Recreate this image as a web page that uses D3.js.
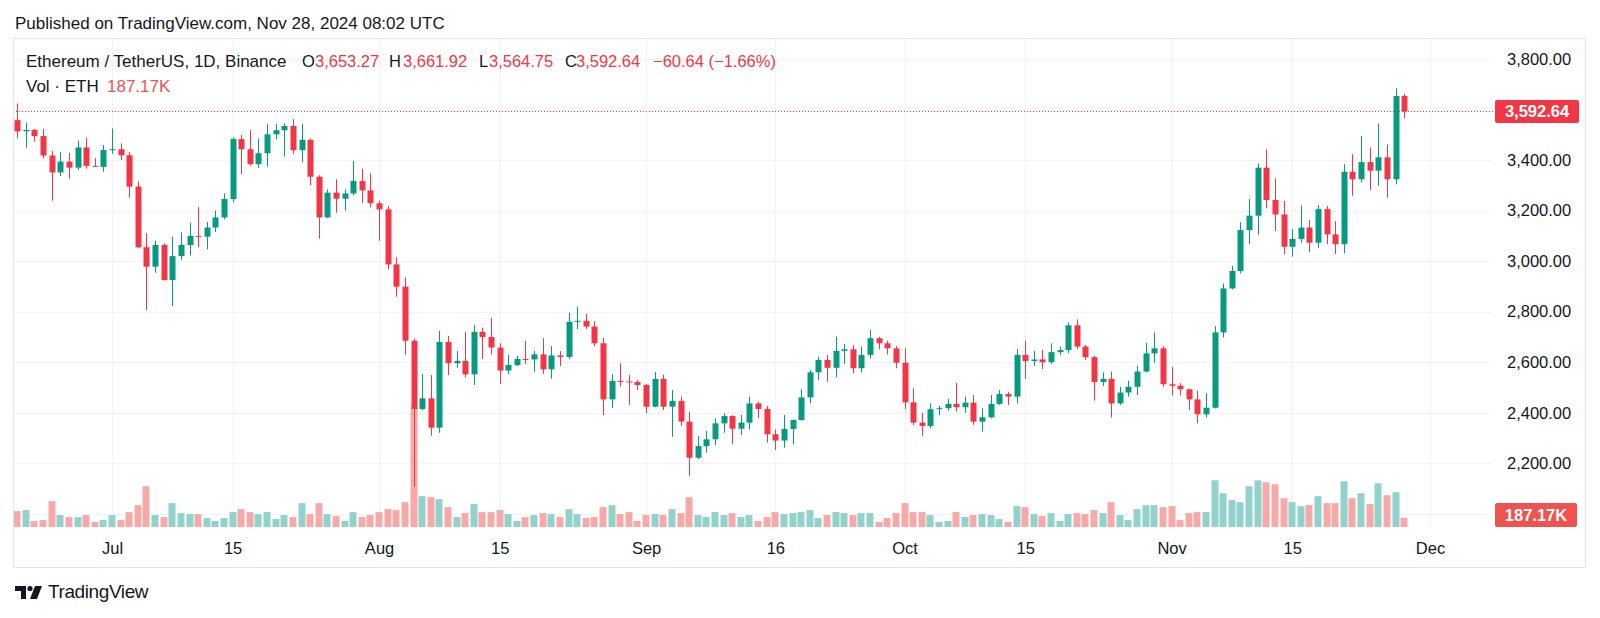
<!DOCTYPE html>
<html><head><meta charset="utf-8">
<script src="https://cdn.jsdelivr.net/npm/d3@7"></script>
<style>
html,body{margin:0;padding:0;background:#fff;}
svg{display:block;font-family:"Liberation Sans",Arial,sans-serif;}
</style></head><body>
<svg id="c" width="1600" height="618"></svg>
<script>
// ---------------- data (ETH/USDT, 1D, Binance) ----------------
const startDate = "2024-06-20";
const opens = [3558,3514,3519,3495,3418,3351,3394,3370,3450,3377,3373,3440,3443,3419,3295,3055,2978,3064,2925,3020,3064,3100,3097,3133,3173,3246,3483,3443,3384,3427,3502,3518,3535,3439,3480,3334,3173,3271,3247,3268,3317,3280,3229,3205,2987,2899,2685,2415,2457,2341,2680,2596,2605,2552,2720,2700,2658,2567,2589,2613,2611,2631,2572,2627,2621,2760,2764,2741,2675,2453,2526,2524,2522,2510,2424,2534,2424,2447,2365,2222,2268,2295,2358,2387,2337,2361,2437,2415,2315,2290,2336,2371,2461,2560,2609,2578,2645,2651,2576,2629,2695,2675,2655,2598,2441,2361,2348,2414,2418,2435,2422,2440,2365,2382,2435,2474,2464,2629,2605,2611,2600,2640,2648,2746,2662,2620,2522,2534,2437,2480,2503,2563,2635,2655,2513,2507,2493,2453,2394,2420,2718,2892,2961,3123,3180,3370,3242,3185,3057,3088,3133,3073,3206,3106,3067,3354,3324,3392,3358,3411,3324,3653.27];
const highs = [3624,3549,3523,3523,3436,3432,3429,3477,3487,3407,3460,3525,3466,3432,3315,3110,3081,3070,3097,3114,3152,3215,3155,3200,3268,3490,3499,3519,3486,3543,3543,3545,3562,3543,3486,3340,3284,3324,3284,3396,3366,3348,3239,3218,3015,2936,2694,2553,2549,2724,2704,2644,2721,2747,2737,2776,2675,2629,2626,2685,2644,2695,2664,2644,2796,2820,2791,2762,2696,2553,2596,2550,2530,2514,2561,2550,2490,2464,2404,2308,2329,2378,2398,2390,2391,2464,2444,2427,2334,2391,2374,2493,2569,2622,2629,2701,2672,2668,2662,2728,2701,2685,2664,2655,2497,2400,2437,2427,2455,2519,2464,2470,2418,2470,2490,2483,2652,2685,2644,2648,2675,2662,2758,2770,2668,2625,2560,2563,2503,2527,2586,2677,2718,2664,2582,2517,2495,2487,2477,2743,2912,2981,3154,3246,3387,3442,3328,3238,3127,3220,3163,3222,3218,3159,3384,3423,3495,3450,3545,3462,3684,3661.92];
const lows = [3486,3449,3473,3407,3239,3337,3326,3361,3366,3374,3354,3425,3400,3251,3051,2807,2954,2923,2822,3005,3023,3055,3047,3115,3165,3232,3345,3377,3369,3375,3482,3414,3423,3391,3300,3089,3171,3192,3200,3260,3231,3213,3081,2968,2859,2629,2107,2410,2309,2321,2549,2578,2540,2510,2613,2631,2513,2552,2585,2593,2563,2553,2535,2585,2612,2731,2731,2664,2391,2418,2503,2431,2490,2398,2422,2411,2305,2348,2150,2217,2242,2272,2321,2275,2312,2334,2378,2282,2253,2262,2275,2369,2437,2530,2523,2540,2593,2556,2559,2615,2651,2631,2576,2415,2352,2309,2338,2390,2408,2404,2400,2352,2325,2378,2431,2431,2437,2534,2585,2573,2593,2629,2635,2652,2609,2448,2506,2381,2431,2464,2470,2559,2598,2503,2468,2468,2411,2358,2381,2417,2698,2888,2952,3068,3104,3209,3119,3027,3018,3073,3035,3051,3067,3028,3031,3259,3312,3282,3299,3251,3304,3564.75];
const closes = [3514,3519,3495,3418,3351,3394,3370,3450,3377,3373,3440,3443,3419,3295,3055,2978,3064,2925,3020,3064,3100,3097,3133,3173,3246,3483,3443,3384,3427,3502,3518,3535,3439,3480,3334,3173,3271,3247,3268,3317,3280,3229,3205,2987,2899,2685,2415,2457,2341,2680,2596,2605,2552,2720,2700,2658,2567,2589,2613,2611,2631,2572,2627,2621,2760,2764,2741,2675,2453,2526,2524,2522,2510,2424,2534,2424,2447,2365,2222,2268,2295,2358,2387,2337,2361,2437,2415,2315,2290,2336,2371,2461,2560,2609,2578,2645,2651,2576,2629,2695,2675,2655,2598,2441,2361,2348,2414,2418,2435,2422,2440,2365,2382,2435,2474,2464,2629,2605,2611,2600,2640,2648,2746,2662,2620,2522,2534,2437,2480,2503,2563,2635,2655,2513,2507,2493,2453,2394,2420,2718,2892,2961,3123,3180,3370,3242,3185,3057,3088,3133,3073,3206,3106,3067,3354,3324,3392,3358,3411,3324,3653.27,3592.64];
// volume in thousands of ETH
const volumes = [320,340,120,140,520,240,200,200,240,100,140,240,140,300,440,820,240,200,480,280,260,260,180,120,180,300,360,300,260,300,160,240,200,480,260,480,260,220,120,300,200,240,300,360,340,500,2420,620,600,560,400,200,280,460,300,300,340,260,120,200,240,280,260,200,360,260,180,200,400,440,260,300,120,240,260,240,360,280,600,240,200,300,240,280,200,240,120,200,300,260,280,300,340,180,240,300,280,240,280,280,100,180,280,480,300,300,240,100,120,300,200,240,260,240,160,100,420,400,260,220,280,120,260,280,260,340,280,500,240,140,360,440,440,400,420,140,280,300,300,940,680,540,500,820,940,900,860,580,500,420,440,620,480,480,920,580,680,460,880,640,700,187.17];
const priceTicks = [2200,2400,2600,2800,3000,3200,3400,3600,3800];
const gridPrices = [2000,2200,2400,2600,2800,3000,3200,3400,3600,3800];
const timeTickDates = ["2024-07-01","2024-07-15","2024-08-01","2024-08-15","2024-09-01","2024-09-16","2024-10-01","2024-10-15","2024-11-01","2024-11-15","2024-12-01"];
const timeTickLabels = ["Jul","15","Aug","15","Sep","16","Oct","15","Nov","15","Dec"];
const lastPrice = 3592.64;
const lastVolumeLabel = "187.17K";

// ---------------- layout ----------------
const UP = "#089981", DOWN = "#F23645";
const VUP = "#92D2CC", VDOWN = "#F7A9A7";
const TXT = "#131722";
const plot = {l:13, r:1493, t:38, b:527};
const svg = d3.select("#c");
const parse = d3.utcParse("%Y-%m-%d");
const t0 = parse(startDate);
const dates = opens.map((_, i) => d3.utcDay.offset(t0, i));
const tickDates = timeTickDates.map(parse);

const x = d3.scaleUtc().domain([parse("2024-07-01"), parse("2024-12-01")]).range([112, 1430]);
const y = d3.scaleLinear().domain([2200, 3800]).range([463.3, 59]);
const yv = d3.scaleLinear().domain([0, 2500]).range([527, 402.8]);

// frame
svg.append("rect").attr("x",13.5).attr("y",38.5).attr("width",1572).attr("height",529)
  .attr("fill","#fff").attr("stroke","#e0e3eb");

// header
svg.append("text").attr("x",15).attr("y",29).attr("font-size",17).attr("fill",TXT)
  .text("Published on TradingView.com, Nov 28, 2024 08:02 UTC");

// grid
const grid = svg.append("g");
grid.selectAll("line.h").data(gridPrices).join("line")
  .attr("x1",plot.l).attr("x2",plot.r)
  .attr("y1",d=>Math.round(y(d))+0.5).attr("y2",d=>Math.round(y(d))+0.5)
  .attr("stroke","#f0f3fa");
grid.selectAll("line.v").data(tickDates).join("line")
  .attr("x1",d=>Math.round(x(d))+0.5).attr("x2",d=>Math.round(x(d))+0.5)
  .attr("y1",plot.t+1).attr("y2",plot.b)
  .attr("stroke","#f0f3fa");

// clip
svg.append("clipPath").attr("id","pc").append("rect")
  .attr("x",plot.l+1).attr("y",plot.t+1).attr("width",plot.r-plot.l-1).attr("height",plot.b-plot.t-1);
const g = svg.append("g").attr("clip-path","url(#pc)");

const data = dates.map((d,i)=>({d, o:opens[i], h:highs[i], l:lows[i], c:closes[i], v:volumes[i]}));
const cx = d => Math.round(x(d.d));

// volume bars
g.append("g").selectAll("rect").data(data).join("rect")
  .attr("x",d=>cx(d)-3.5).attr("width",7)
  .attr("y",d=>yv(d.v)).attr("height",d=>yv(0)-yv(d.v))
  .attr("fill",d=>d.c>=d.o?VUP:VDOWN);

// last price dotted line
g.append("line").attr("x1",plot.l).attr("x2",plot.r)
  .attr("y1",Math.round(y(lastPrice))+0.5).attr("y2",Math.round(y(lastPrice))+0.5)
  .attr("stroke",DOWN).attr("stroke-dasharray","1,2");

// candles
const cg = g.append("g");
cg.selectAll("line").data(data).join("line")
  .attr("x1",d=>cx(d)+0.5).attr("x2",d=>cx(d)+0.5)
  .attr("y1",d=>y(d.h)).attr("y2",d=>y(d.l))
  .attr("stroke",d=>d.c>=d.o?UP:DOWN).attr("stroke-width",1);
cg.selectAll("rect").data(data).join("rect")
  .attr("x",d=>cx(d)-2.5).attr("width",6)
  .attr("y",d=>y(Math.max(d.o,d.c)))
  .attr("height",d=>Math.max(1, Math.abs(y(d.o)-y(d.c))))
  .attr("fill",d=>d.c>=d.o?UP:DOWN);

// price axis
const pa = svg.append("g").attr("transform",`translate(${plot.r},0)`)
  .call(d3.axisRight(y).tickValues(priceTicks).tickFormat(d3.format(",.2f")).tickSize(0).tickPadding(14));
pa.select(".domain").remove();
pa.selectAll("text").attr("font-size",16.5).attr("fill",TXT).attr("font-family",null);

// time axis
const ta = svg.append("g").attr("transform",`translate(0,${plot.b})`)
  .call(d3.axisBottom(x).tickValues(tickDates).tickFormat((d,i)=>timeTickLabels[i]).tickSize(0));
ta.select(".domain").remove();
ta.selectAll("text").attr("y",21).attr("dy","0.35em").attr("font-size",16.5).attr("fill",TXT).attr("font-family",null);

// last price label
const ly = y(lastPrice);
svg.append("rect").attr("x",1495).attr("y",ly-11.5).attr("width",84).attr("height",23).attr("rx",2).attr("fill",DOWN);
svg.append("text").attr("x",1537).attr("y",ly).attr("dy","0.35em").attr("text-anchor","middle")
  .attr("font-size",16.5).attr("font-weight","bold").attr("fill","#fff").text(d3.format(",.2f")(lastPrice));
// volume label
const vy = 515;
svg.append("rect").attr("x",1495).attr("y",vy-12).attr("width",82).attr("height",24).attr("rx",2).attr("fill","#EF5350");
svg.append("text").attr("x",1536).attr("y",vy).attr("dy","0.35em").attr("text-anchor","middle")
  .attr("font-size",16.5).attr("font-weight","bold").attr("fill","#fff").text(lastVolumeLabel);

// legend
const lg = svg.append("g").attr("font-size",17);
lg.append("text").attr("x",26).attr("y",67).attr("fill",TXT).text("Ethereum / TetherUS, 1D, Binance");
const legendParts = [
  {x:302, t:"O", c:TXT},{x:315, t:d3.format(",.2f")(opens[opens.length-1]), c:DOWN},
  {x:389, t:"H", c:TXT},{x:403, t:d3.format(",.2f")(highs[highs.length-1]), c:DOWN},
  {x:479, t:"L", c:TXT},{x:489, t:d3.format(",.2f")(lows[lows.length-1]), c:DOWN},
  {x:565, t:"C", c:TXT},{x:576, t:d3.format(",.2f")(closes[closes.length-1]), c:DOWN},
  {x:653, t:"\u221260.64 (\u22121.66%)", c:DOWN}
];
lg.selectAll("text.p").data(legendParts).join("text").attr("class","p")
  .attr("x",d=>d.x).attr("y",67).attr("fill",d=>d.c).attr("font-size",16.5).text(d=>d.t);
lg.append("text").attr("x",26).attr("y",92).attr("fill",TXT).text("Vol \u00b7 ETH");
lg.append("text").attr("x",107).attr("y",92).attr("fill","#EF5350").text(lastVolumeLabel);

// TradingView logo
const logo = svg.append("g").attr("fill",TXT);
logo.append("path").attr("d","M15,586 h11 v13 h-5 v-8 h-6 z");
logo.append("circle").attr("cx",30).attr("cy",588.5).attr("r",2.6);
logo.append("path").attr("d","M35,586 h7 l-5,13 h-7 z");
svg.append("text").attr("x",48).attr("y",598).attr("font-size",19).attr("fill",TXT)
  .attr("letter-spacing","-0.4").text("TradingView");
</script>
</body></html>
